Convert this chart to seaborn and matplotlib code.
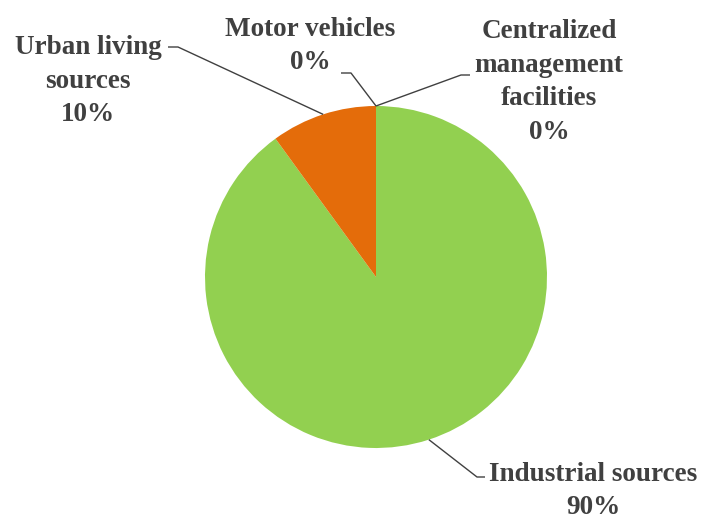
import numpy as np
import matplotlib.pyplot as plt
import seaborn as sns

sns.set_theme(style="white")
plt.rcParams['font.family'] = ['Liberation Serif', 'DejaVu Serif']

# data
sources = ['Industrial sources', 'Urban living sources', 'Motor vehicles', 'Centralized management facilities']
shares = [90, 10, 0, 0]
label_texts = ['Industrial sources\n90%', 'Urban living\nsources\n10%', 'Motor vehicles\n0%',
               'Centralized\nmanagement\nfacilities\n0%']
colors = ['#92D050', '#E46C0A', '#4472C4', '#A5A5A5']

W, H = 701, 521
fig = plt.figure(figsize=(W / 100, H / 100), dpi=100)
ax = fig.add_axes([0, 0, 1, 1])

cx, cy, r = 376, H - 277, 171
wedges, _ = ax.pie(shares, colors=colors, startangle=90, counterclock=False,
                   center=(cx, cy), radius=r, wedgeprops=dict(linewidth=0))
ax.set_xlim(0, W)
ax.set_ylim(0, H)
ax.set_aspect('equal')
ax.axis('off')


def edge_point(w):
    ang = np.deg2rad((w.theta1 + w.theta2) / 2)
    return cx + r * np.cos(ang), cy + r * np.sin(ang)


# label layout: (text center x, text center y, elbow start, elbow end) in pixels
layout = [
    (593, 491, (485, 477), (477, 477)),
    (88, 81, (168, 47), (178, 47)),
    (310, 46, (341, 73), (351, 73)),
    (549, 82, (470, 75), (461, 75)),
]

line_col = '#404040'
for w, txt, (tx, ty, p0, p1) in zip(wedges, label_texts, layout):
    ex, ey = edge_point(w)
    ax.plot([p0[0], p1[0], ex], [H - p0[1], H - p1[1], ey], color=line_col, lw=1.0,
            solid_capstyle='butt')
    ax.text(tx, H - ty, txt, ha='center', va='center', fontsize=19.5, fontweight='bold',
            color='#404040', linespacing=1.45)

fig.savefig('out.png', dpi=100)
